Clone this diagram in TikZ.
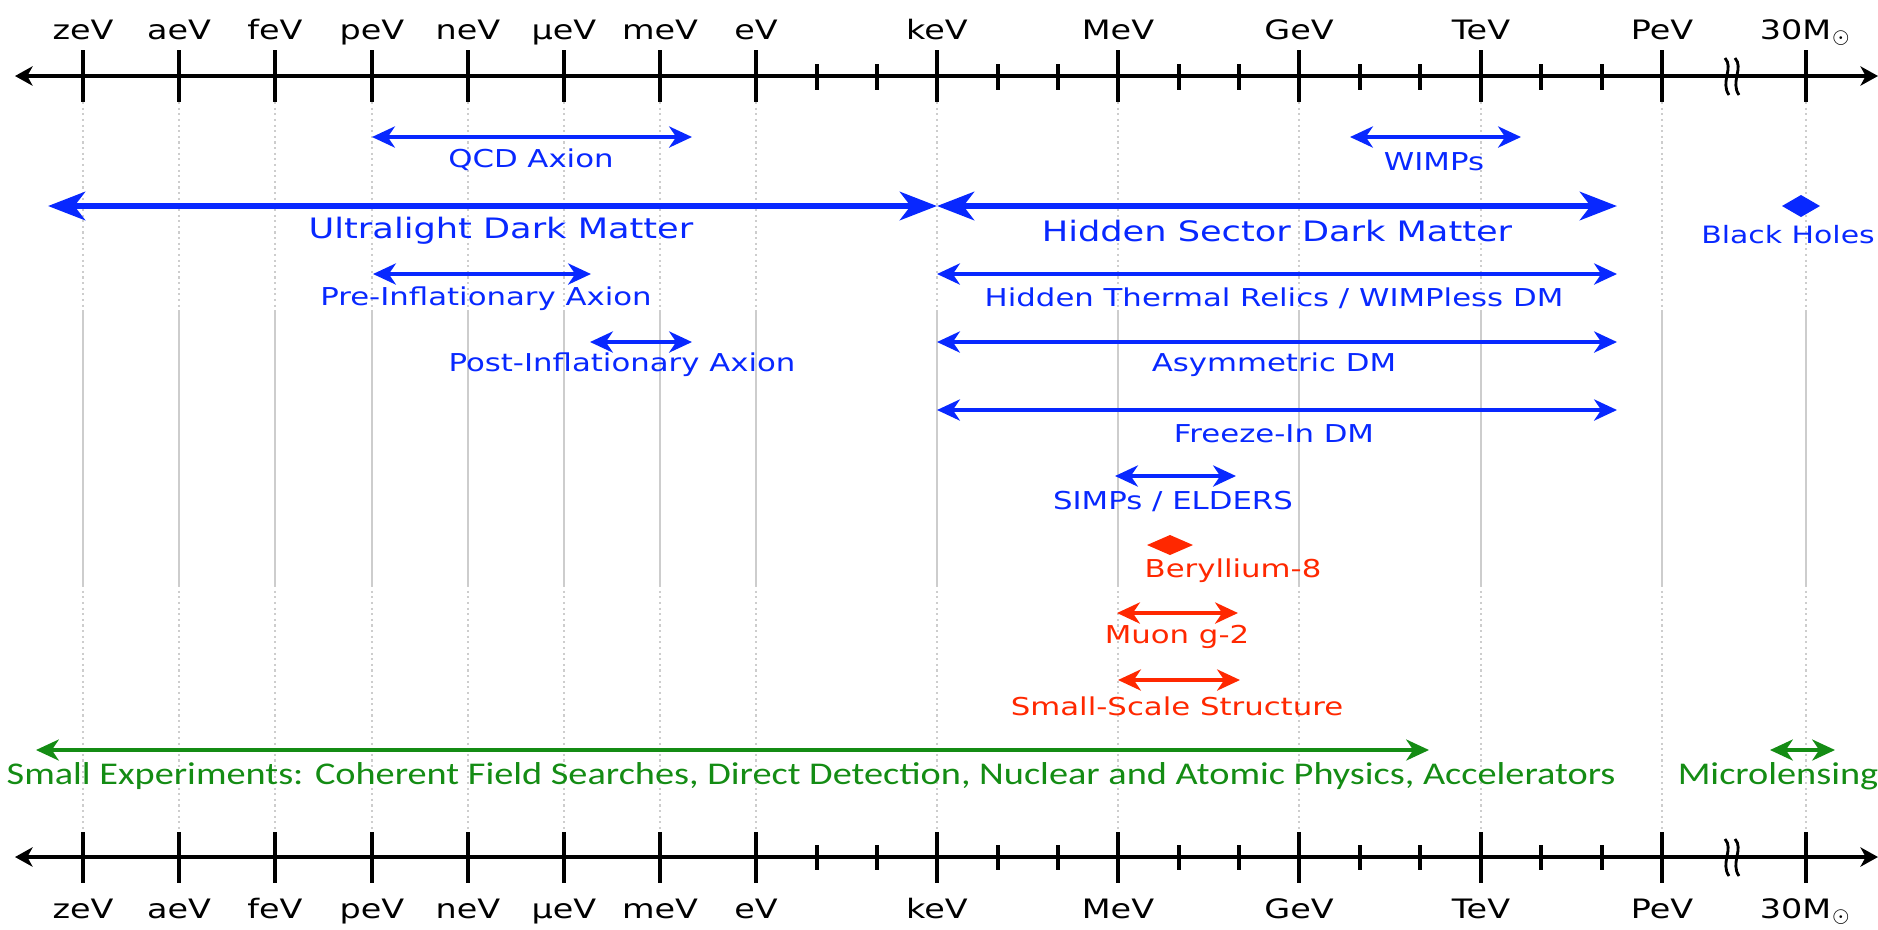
\documentclass[tikz,border=0pt]{standalone}
\usepackage{fontspec}
\setmainfont{DejaVu Sans}[FakeStretch=1.25]
\newfontfamily\expfont{Carlito}[FakeStretch=1.21]
\usetikzlibrary{arrows.meta}
\definecolor{dmblue}{RGB}{8,40,255}
\definecolor{dmred}{RGB}{255,40,0}
\definecolor{dmgreen}{RGB}{20,140,20}
\definecolor{gridgray}{RGB}{205,205,205}
\tikzset{
  axisline/.style={line width=1.2pt,{Stealth[length=5pt,width=5.5pt,inset=1.5pt]}-{Stealth[length=5pt,width=5.5pt,inset=1.5pt]}},
  majortick/.style={line width=1.1pt},
  minortick/.style={line width=1pt},
  breakline/.style={line width=0.8pt},
  griddot/.style={gridgray,line width=0.6pt,densely dotted},
  gridsolid/.style={gridgray,line width=0.6pt},
  axislbl/.style={anchor=base,inner sep=0pt,font=\fontsize{7.6}{9}\selectfont},
  rangearr/.style={line width=1.1pt,{Stealth[length=6.5pt,width=6pt,inset=2pt]}-{Stealth[length=6.5pt,width=6pt,inset=2pt]}},
  bigarr/.style={line width=1.9pt,{Stealth[length=10.5pt,width=8pt,inset=3pt]}-{Stealth[length=10.5pt,width=8pt,inset=3pt]}},
  bluelbl/.style={text=dmblue,inner sep=0pt,font=\fontsize{7}{9}\selectfont},
  bigbluelbl/.style={text=dmblue,inner sep=0pt,font=\fontsize{8}{10}\selectfont},
  redlbl/.style={text=dmred,inner sep=0pt,font=\fontsize{7}{9}\selectfont},
  greenlbl/.style={text=dmgreen,inner sep=0pt,font=\expfont\fontsize{9}{11}\selectfont}
}
\begin{document}
\begin{tikzpicture}[x=0.01cm,y=-0.01cm]
  \useasboundingbox (0,0) rectangle (1878,929);

  \foreach \x in {83,179,275,372,468,564,660,756,937,1118,1299,1481,1662,1806}{
    \draw[griddot] (\x,102) -- (\x,310);
    \draw[gridsolid] (\x,310) -- (\x,585);
    \draw[griddot] (\x,585) -- (\x,832);
  }

  \coordinate (topL) at (15,76);
  \coordinate (topR) at (1878,76);
  \coordinate (botL) at (15,857);
  \coordinate (botR) at (1878,857);
  \draw[axisline] (topL) -- (topR);
  \draw[axisline] (botL) -- (botR);

  \foreach \x/\t [count=\i] in {83/zeV,179/aeV,275/feV,372/peV,468/neV,564/μeV,660/meV,756/eV,937/keV,1118/MeV,1299/GeV,1481/TeV,1662/PeV,1806/{30M$_\odot$}}{
    \draw[majortick] (\x,50) -- (\x,102);
    \draw[majortick] (\x,832) -- (\x,883);
    \node[axislbl] (tl\i) at (\x,39) {\t};
    \node[axislbl] (bl\i) at (\x,918) {\t};
  }
  \foreach \x in {817,877,998,1058,1179,1239,1360,1420,1541,1602}{
    \draw[minortick] (\x,64) -- (\x,90);
    \draw[minortick] (\x,845) -- (\x,870);
  }
  \foreach \y in {76,857}{
    \draw[breakline] (1725,\y-18) .. controls (1734,\y-8) and (1720,\y+6) .. (1729,\y+19);
    \draw[breakline] (1735,\y-18) .. controls (1744,\y-8) and (1730,\y+6) .. (1739,\y+19);
  }

  \coordinate (qcdL) at (372,137); \coordinate (qcdR) at (692,137);
  \draw[rangearr,dmblue] (qcdL) -- (qcdR);
  \node[bluelbl] (qcd) at (531,160) {QCD Axion};

  \coordinate (wimpL) at (1350,137); \coordinate (wimpR) at (1521,137);
  \draw[rangearr,dmblue] (wimpL) -- (wimpR);
  \node[bluelbl] (wimps) at (1434,162) {WIMPs};

  \coordinate (ulL) at (48,206); \coordinate (ulR) at (937,206);
  \draw[bigarr,dmblue] (ulL) -- (ulR);
  \node[bigbluelbl] (ulight) at (501,231) {Ultralight Dark Matter};

  \coordinate (hsL) at (937,206); \coordinate (hsR) at (1617,206);
  \draw[bigarr,dmblue] (hsL) -- (hsR);
  \node[bigbluelbl] (hsector) at (1277,231) {Hidden Sector Dark Matter};

  \coordinate (bh) at (1801,206);
  \fill[dmblue] (bh) ++(-19,0) -- ++(19,-11) -- ++(19,11) -- ++(-19,11) -- cycle;
  \node[bluelbl,font=\fontsize{6.8}{9}\selectfont] (bholes) at (1788,235) {Black Holes};

  \coordinate (preL) at (373,274); \coordinate (preR) at (591,274);
  \draw[rangearr,dmblue] (preL) -- (preR);
  \node[bluelbl] (preinf) at (486,299) {Pre-Inflationary Axion};

  \coordinate (htL) at (937,274); \coordinate (htR) at (1617,274);
  \draw[rangearr,dmblue] (htL) -- (htR);
  \node[bluelbl] (hthermal) at (1274,298) {Hidden Thermal Relics / WIMPless DM};

  \coordinate (postL) at (590,342); \coordinate (postR) at (692,342);
  \draw[rangearr,dmblue] (postL) -- (postR);
  \node[bluelbl] (postinf) at (622,365) {Post-Inflationary Axion};

  \coordinate (asL) at (937,342); \coordinate (asR) at (1617,342);
  \draw[rangearr,dmblue] (asL) -- (asR);
  \node[bluelbl] (asym) at (1274,365) {Asymmetric DM};

  \coordinate (fiL) at (937,410); \coordinate (fiR) at (1617,410);
  \draw[rangearr,dmblue] (fiL) -- (fiR);
  \node[bluelbl] (freezein) at (1274,434) {Freeze-In DM};

  \coordinate (siL) at (1115,476); \coordinate (siR) at (1236,476);
  \draw[rangearr,dmblue] (siL) -- (siR);
  \node[bluelbl] (simps) at (1173,501) {SIMPs / ELDERS};

  \coordinate (be) at (1170,545);
  \fill[dmred] (be) ++(-23,0) -- ++(23,-10) -- ++(23,10) -- ++(-23,10) -- cycle;
  \node[redlbl] (beryl) at (1233,571) {Beryllium-8};

  \coordinate (muL) at (1117,613); \coordinate (muR) at (1238,613);
  \draw[rangearr,dmred] (muL) -- (muR);
  \node[redlbl] (muon) at (1177,637) {Muon g-2};

  \coordinate (ssL) at (1118,680); \coordinate (ssR) at (1240,680);
  \draw[rangearr,dmred] (ssL) -- (ssR);
  \node[redlbl] (sss) at (1177,706) {Small-Scale Structure};

  \coordinate (seL) at (36,750); \coordinate (seR) at (1429,750);
  \draw[rangearr,dmgreen,line width=0.9pt] (seL) -- (seR);
  \node[greenlbl,anchor=west] (smallexp) at (6,776) {Small Experiments: Coherent Field Searches, Direct Detection, Nuclear and Atomic Physics, Accelerators};

  \coordinate (mlL) at (1770,750); \coordinate (mlR) at (1835,750);
  \draw[rangearr,dmgreen,line width=0.9pt] (mlL) -- (mlR);
  \node[greenlbl] (microlens) at (1778,776) {Microlensing};
\end{tikzpicture}
\end{document}
